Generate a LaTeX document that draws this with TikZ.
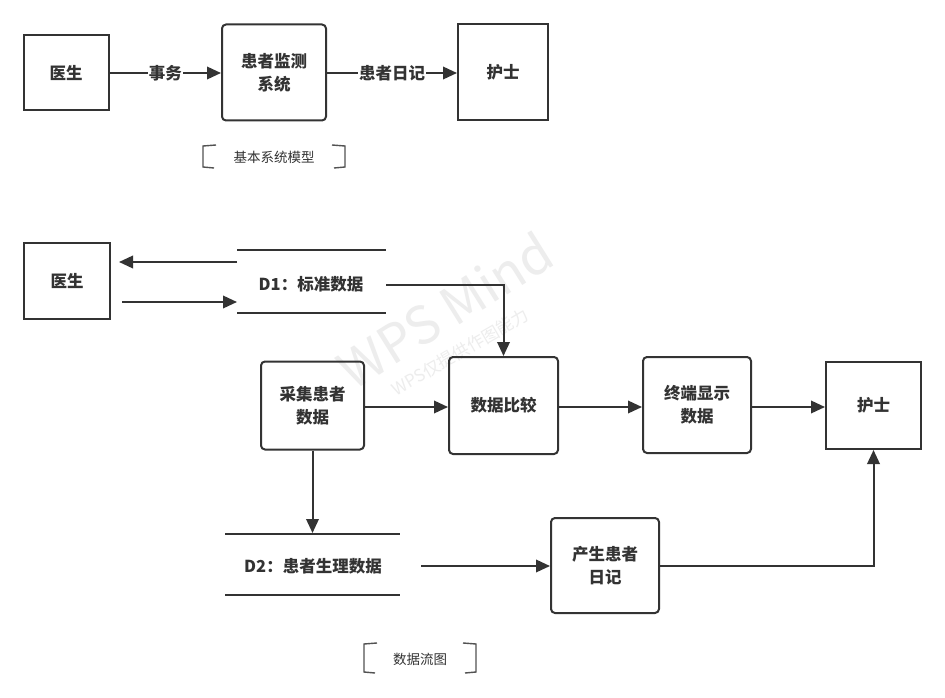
\documentclass[tikz,border=0pt]{standalone}
\usepackage{fontspec}
\setmainfont{Noto Sans CJK SC}
\usetikzlibrary{arrows.meta}
\definecolor{ink}{HTML}{333333}
\definecolor{wm}{HTML}{EDEDED}
\begin{document}
\begin{tikzpicture}[x=1pt,y=-1pt,
  base/.style={draw=ink,line width=2pt,text=ink,font=\bfseries\fontsize{16.5}{23}\selectfont,align=center,inner sep=0pt},
  ent/.style={base},
  proc/.style={base,rounded corners=4pt},
  arr/.style={draw=ink,line width=2pt,-{Triangle[length=14pt,width=12.5pt]}},
  conn/.style={draw=ink,line width=2pt},
  lbl/.style={fill=white,text=ink,font=\bfseries\fontsize{16.5}{23}\selectfont,inner sep=1pt},
  storetxt/.style={text=ink,font=\bfseries\fontsize{16.5}{23}\selectfont,inner sep=0pt},
  storeline/.style={draw=ink,line width=2.5pt},
  brk/.style={draw=ink!85,line width=1.4pt},
  captxt/.style={text=ink,font=\fontsize{13.5}{16}\selectfont,inner sep=0pt}]
\fill[white] (0,0) rectangle (945,698);
\useasboundingbox (0,0) rectangle (945,698);
% watermark
\node[text=wm,font=\fontsize{52}{52}\selectfont,rotate=32] (wm1) at (445,310) {WPS Mind};
\node[text=wm,font=\fontsize{17}{17}\selectfont,rotate=30] (wm2) at (460,352) {WPS仅提供作图能力};
% ---------- top: basic system model ----------
\node[ent,minimum width=85pt,minimum height=75pt] (doc1) at (66,73) {医生};
\node[proc,minimum width=104pt,minimum height=96pt] (sys) at (274,72.5) {患者监测\\系统};
\node[ent,minimum width=90pt,minimum height=96pt] (nurse1) at (503,72.5) {护士};
\draw[arr] (doc1.east) -- node[lbl] (l1) {事务} (doc1.east -| sys.west);
\draw[arr] (sys.east |- doc1.east) -- node[lbl] (l2) {患者日记} (doc1.east -| nurse1.west);
\node[captxt] (cap1) at (274,157) {基本系统模型};
\draw[brk] (216,145) -- (203,146) -- (203,167) -- (214,168);
\draw[brk] (332,145) -- (345,146) -- (345,167) -- (334,168);
% ---------- bottom: data flow diagram ----------
\node[ent,minimum width=86pt,minimum height=76pt] (doc2) at (67,281) {医生};
\node[storetxt] (d1) at (311,284) {D1：标准数据};
\draw[storeline] (237,250) -- (386,250);
\draw[storeline] (237,313) -- (386,313);
\coordinate (d1w1) at (237,262);
\coordinate (d1w2) at (237,302);
\coordinate (d1e) at (386,285);
\node[proc,minimum width=103pt,minimum height=88pt] (collect) at (312.5,405.5) {采集患者\\数据};
\node[proc,minimum width=109pt,minimum height=97pt] (compare) at (503.5,405.5) {数据比较};
\node[proc,minimum width=108pt,minimum height=96pt] (display) at (697,405) {终端显示\\数据};
\node[ent,minimum width=95pt,minimum height=87pt] (nurse2) at (873.5,405.5) {护士};
\node[storetxt] (d2) at (313,566) {D2：患者生理数据};
\draw[storeline] (225,534) -- (400,534);
\draw[storeline] (225,595) -- (400,595);
\coordinate (d2top) at (312.5,533);
\coordinate (d2e) at (421,566);
\node[proc,minimum width=108pt,minimum height=95pt] (diary) at (605,565.5) {产生患者\\日记};
\draw[arr,shorten >=8pt] (d1w1) -- (doc2.east |- d1w1);
\draw[arr,shorten <=11pt] (doc2.east |- d1w2) -- (d1w2);
\draw[arr] (d1e) -| (compare.north);
\draw[arr] (collect.east |- 0,407) -- (compare.west |- 0,407);
\draw[arr] (compare.east |- 0,407) -- (display.west |- 0,407);
\draw[arr] (display.east |- 0,407) -- (nurse2.west |- 0,407);
\draw[arr] (collect.south) -- (d2top);
\draw[arr] (d2e) -- (diary.west |- d2e);
\draw[arr] (diary.east |- d2e) -| (nurse2.south);
\node[captxt] (cap2) at (420,659) {数据流图};
\draw[brk] (377,643) -- (364,644) -- (364,672) -- (375,673);
\draw[brk] (463,643) -- (476,644) -- (476,672) -- (465,673);
\end{tikzpicture}
\end{document}
